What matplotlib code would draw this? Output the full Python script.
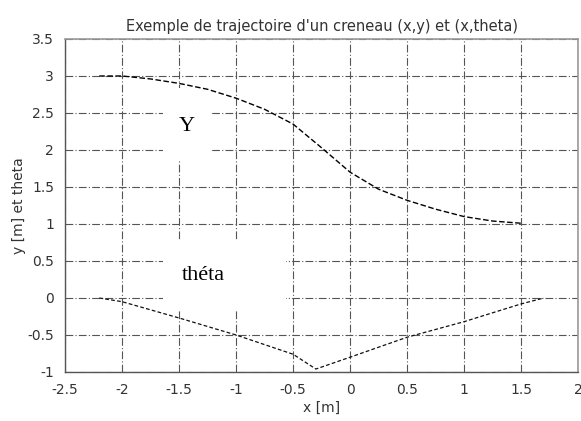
import matplotlib
matplotlib.use("Agg")
import matplotlib.pyplot as plt
from matplotlib.patches import Rectangle

# trajectoire du creneau
x_y = [-2.2, -2.0, -1.75, -1.5, -1.25, -1.0, -0.75, -0.5, -0.25, 0.0, 0.25, 0.5, 0.75, 1.0, 1.25, 1.5]
y_vals = [3.0, 3.0, 2.96, 2.9, 2.82, 2.7, 2.55, 2.35, 2.03, 1.7, 1.47, 1.32, 1.2, 1.1, 1.04, 1.01]

x_theta = [-2.2, -2.0, -1.5, -1.0, -0.5, -0.3, 0.0, 0.5, 1.0, 1.5, 1.7]
theta_vals = [0.0, -0.05, -0.27, -0.5, -0.76, -0.96, -0.8, -0.53, -0.32, -0.08, 0.0]

xticks = [-2.5, -2, -1.5, -1, -0.5, 0, 0.5, 1, 1.5, 2]
xticklabels = ["-2.5", "-2", "-1.5", "-1", "-0.5", "0", "0.5", "1", "1.5", "2"]
yticks = [-1, -0.5, 0, 0.5, 1, 1.5, 2, 2.5, 3, 3.5]
yticklabels = ["-1", "-0.5", "0", "0.5", "1", "1.5", "2", "2.5", "3", "3.5"]

fig = plt.figure(figsize=(5.81, 4.21), dpi=100)
ax = fig.add_axes([0.112, 0.1164, 0.883, 0.791])

ax.plot(x_y, y_vals, color="black", lw=1.0, linestyle=(0, (4, 1.8)), zorder=4)
ax.plot(x_theta, theta_vals, color="#111111", lw=0.9, linestyle=(0, (3, 1.8)), zorder=4)

ax.set_xlim(-2.5, 2)
ax.set_ylim(-1, 3.5)
ax.set_xticks(xticks)
ax.set_xticklabels(xticklabels)
ax.set_yticks(yticks)
ax.set_yticklabels(yticklabels)
ax.tick_params(direction="in", length=0, labelsize=10, pad=8, colors="#333333")

ax.grid(True, color="#555555", lw=0.8, linestyle=(0, (7, 2, 1, 2)), zorder=1)
ax.set_axisbelow(True)

for s in ["top", "right"]:
    ax.spines[s].set_color("#999999")
    ax.spines[s].set_linewidth(1.2)
for s in ["left", "bottom"]:
    ax.spines[s].set_color("#555555")
    ax.spines[s].set_linewidth(1.0)

# etiquettes sur fond blanc
ax.add_patch(Rectangle((-1.64, 1.86), 0.43, 0.98, facecolor="white", edgecolor="none", zorder=2))
ax.add_patch(Rectangle((-1.64, -0.16), 1.08, 0.94, facecolor="white", edgecolor="none", zorder=2))
ax.text(-1.43, 2.32, "Y", family="Liberation Serif", fontsize=16, ha="center", va="center", zorder=3)
ax.text(-1.29, 0.31, "théta", family="Liberation Serif", fontsize=16, ha="center", va="center", zorder=3)

ax.set_title("Exemple de trajectoire d'un creneau (x,y) et (x,theta)", fontsize=10.5, pad=6, color="#333333")
ax.set_xlabel("x [m]", fontsize=10, labelpad=3, color="#333333")
ax.set_ylabel("y [m] et theta", fontsize=10, labelpad=1, color="#333333")

fig.savefig("out.png", dpi=100)
